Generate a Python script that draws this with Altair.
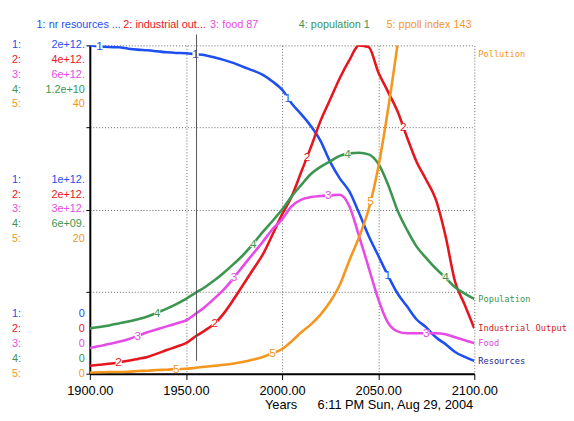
import altair as alt
import numpy as np
import pandas as pd

# ---------------- data ----------------
years = list(range(1900, 2101, 5))

# 1: nr resources (units of 1e12), axis max 2e12
resources = [2.00, 1.994, 1.99, 1.988, 1.98, 1.974, 1.97, 1.964, 1.958, 1.954,
             1.952, 1.946, 1.94, 1.926, 1.91, 1.892, 1.868, 1.846, 1.82, 1.78,
             1.73, 1.646, 1.58, 1.508, 1.418, 1.29, 1.19, 1.11, 0.98, 0.84,
             0.72, 0.60, 0.49, 0.41, 0.33, 0.282, 0.222, 0.18, 0.132, 0.102, 0.078]
# 2: industrial output (units of 1e12), axis max 4e12
industrial = [0.096, 0.108, 0.12, 0.136, 0.156, 0.18, 0.204, 0.244, 0.288, 0.328,
              0.372, 0.456, 0.528, 0.612, 0.744, 0.912, 1.092, 1.272, 1.452, 1.692,
              1.94, 2.16, 2.46, 2.76, 3.08, 3.34, 3.60, 3.82, 4.0, 3.98,
              3.676, 3.44, 3.2, 2.88, 2.58, 2.36, 2.12, 1.68, 1.12, 0.84, 0.552]
# 3: food (units of 1e12), axis max 6e12
food = [0.468, 0.504, 0.54, 0.582, 0.63, 0.69, 0.756, 0.81, 0.864, 0.918,
        0.972, 1.092, 1.224, 1.38, 1.548, 1.758, 1.98, 2.196, 2.412, 2.64,
        2.82, 3.06, 3.18, 3.228, 3.246, 3.258, 3.27, 3.06, 2.52, 1.944,
        1.368, 0.936, 0.774, 0.738, 0.738, 0.738, 0.738, 0.72, 0.666, 0.612, 0.558]
# 4: population (units of 1e9), axis max 1.2e10
population = [1.656, 1.704, 1.764, 1.836, 1.908, 1.992, 2.088, 2.232, 2.376, 2.544,
              2.736, 2.952, 3.168, 3.42, 3.708, 4.02, 4.356, 4.752, 5.184, 5.58,
              6.0, 6.48, 6.9, 7.3, 7.56, 7.76, 7.96, 8.052, 8.076, 8.016,
              7.68, 6.936, 5.976, 5.256, 4.644, 4.224, 3.84, 3.516, 3.156, 2.928, 2.736]
# 5: ppoll index, axis max 40
poll_years = list(range(1900, 2061, 5))
pollution = [0.12, 0.16, 0.2, 0.2, 0.24, 0.32, 0.36, 0.44, 0.48, 0.56,
             0.6, 0.72, 0.84, 0.96, 1.08, 1.24, 1.44, 1.72, 2.04, 2.48,
             3.0, 3.96, 5.04, 6.0, 7.2, 8.76, 10.8, 13.8, 16.6, 20.0,
             25.1, 32.0, 40.0]

series_names = ["nr resources", "industrial output", "food", "population", "ppoll index"]
series_keys = ["1", "2", "3", "4", "5"]
series_max = [2.0, 4.0, 6.0, 12.0, 40.0]          # in the units above
line_colors = ["#1e4ff0", "#e6161e", "#e64be6", "#3c9650", "#f5961e"]
label_years = [[1905, 1955, 2003, 2055],
               [1915, 1965, 2013, 2063],
               [1925, 1975, 2024, 2075],
               [1935, 1985, 2034, 2085],
               [1945, 1995, 2046]]

header_texts = ["1: nr resources ...", "2: industrial out...", "3: food 87",
                "4: population 1", "5: ppoll index 143"]
header_x = [-54, 34, 122, 212, 301]

tick_top = ["2e+12.", "4e+12.", "6e+12.", "1.2e+10", "40"]
tick_mid = ["1e+12.", "2e+12.", "3e+12.", "6e+09.", "20"]
tick_bot = ["0", "0", "0", "0", "0"]

right_names = ["Resources", "Industrial Output", "Food", "Population", "Pollution"]
right_colors = ["#1e1e8c", "#d21e28", "#e64be6", "#3c9650", "#f5961e"]

x_ticks = [1900, 1950, 2000, 2050, 2100]
cursor_year = [1955.5]
time_stamp = "6:11 PM   Sun, Aug 29, 2004"

# ---------------- tables ----------------
all_vals = [resources, industrial, food, population, pollution]
all_years = [years, years, years, years, poll_years]
rows = []
for k, vals, yrs, mx in zip(series_keys, all_vals, all_years, series_max):
    for yr, v in zip(yrs, vals):
        rows.append({"series": k, "year": yr, "frac": v / mx})
lines_df = pd.DataFrame(rows)

lab_rows = []
for k, vals, yrs, mx, lys in zip(series_keys, all_vals, all_years, series_max, label_years):
    for ly in lys:
        lab_rows.append({"series": k, "year": ly,
                         "frac": float(np.interp(ly, yrs, np.array(vals) / mx))})
labels_df = pd.DataFrame(lab_rows)

PX = 1.0 / 333.0  # one pixel in fraction units
left_rows = []
for block, anchor, texts in [(1.0, 0, tick_top), (0.5, 2, tick_mid), (0.0, 4, tick_bot)]:
    for i, (k, t, c) in enumerate(zip(series_keys, texts, line_colors)):
        left_rows.append({"frac": block - (i - anchor) * 15 * PX,
                          "key": k + ":", "val": t, "color": c})
left_df = pd.DataFrame(left_rows)

right_rows = []
for i, (nm, c) in enumerate(zip(right_names, right_colors)):
    vals, mx = all_vals[i], series_max[i]
    f = min(vals[-1] / mx, 0.975)
    right_rows.append({"frac": f, "name": nm, "color": c})
right_df = pd.DataFrame(right_rows)

header_df = pd.DataFrame({"text": header_texts, "px": header_x, "color": line_colors})

SANS = "Liberation Sans, Arial, sans-serif"

xscale = alt.Scale(domain=[1900, 2100], nice=False, zero=False)
yscale = alt.Scale(domain=[0, 1], nice=False, zero=False)

X = alt.X("year:Q", scale=xscale,
          axis=alt.Axis(values=x_ticks, format=".2f", title=None, grid=True,
                        gridDash=[1, 2], gridColor="#666", gridWidth=1,
                        domainColor="black", domainWidth=2, tickColor="black",
                        tickSize=6, tickWidth=1, labelFont=SANS, labelFontSize=13,
                        labelColor="black", labelPadding=5, labelFlush=False))
Y = alt.Y("frac:Q", scale=yscale,
          axis=alt.Axis(values=[0, 0.25, 0.5, 0.75, 1.0], labels=False, title=None,
                        grid=True, gridDash=[1, 2], gridColor="#666", gridWidth=1,
                        domainColor="black", domainWidth=2, tickColor="black",
                        tickSize=4))

color = alt.Color("series:N", scale=alt.Scale(domain=series_keys, range=line_colors),
                  legend=None)

lines = alt.Chart(lines_df).mark_line(strokeWidth=2.6, interpolate="monotone",
                                      clip=True).encode(x=X, y=Y, color=color,
                                                        detail="series:N")

label_bg = alt.Chart(labels_df).mark_point(shape="square", filled=True, size=40,
                                           color="white", opacity=1).encode(
    x=alt.X("year:Q", scale=xscale), y=alt.Y("frac:Q", scale=yscale))
label_txt = alt.Chart(labels_df).mark_text(font=SANS, fontSize=12).encode(
    x=alt.X("year:Q", scale=xscale), y=alt.Y("frac:Q", scale=yscale),
    text="series:N", color=color)

cursor = alt.Chart(pd.DataFrame({"year": cursor_year})).mark_rule(
    color="#555", strokeWidth=1).encode(x=alt.X("year:Q", scale=xscale),
                                        y=alt.value(-11), y2=alt.value(320))

left_key = alt.Chart(left_df).mark_text(font=SANS, fontSize=11, align="left",
                                        baseline="middle").encode(
    x=alt.value(-79), y=alt.Y("frac:Q", scale=yscale), text="key:N",
    color=alt.Color("color:N", scale=None))
left_val = alt.Chart(left_df).mark_text(font=SANS, fontSize=11, align="right",
                                        baseline="middle").encode(
    x=alt.value(-5), y=alt.Y("frac:Q", scale=yscale), text="val:N",
    color=alt.Color("color:N", scale=None))

header = alt.Chart(header_df).mark_text(font=SANS, fontSize=11, align="left",
                                        baseline="middle").encode(
    x=alt.X("px:Q", scale=None), y=alt.value(-21), text="text:N",
    color=alt.Color("color:N", scale=None))

right = alt.Chart(right_df).mark_text(font="DejaVu Sans Mono", fontSize=8.8,
                                      align="left", baseline="middle", dx=4).encode(
    x=alt.value(390), y=alt.Y("frac:Q", scale=yscale), text="name:N",
    color=alt.Color("color:N", scale=None))

years_title = alt.Chart(pd.DataFrame({"t": ["Years"]})).mark_text(
    font=SANS, fontSize=13, align="center", baseline="middle", color="black").encode(
    x=alt.value(194), y=alt.value(365), text="t:N")
stamp = alt.Chart(pd.DataFrame({"t": [time_stamp]})).mark_text(
    font=SANS, fontSize=13, align="left", baseline="middle", color="black").encode(
    x=alt.value(231), y=alt.value(365), text="t:N")

chart = alt.layer(lines, label_bg, label_txt, cursor, left_key, left_val, header,
                  right, years_title, stamp).properties(
    width=390, height=333,
    padding={"left": 83, "top": 35, "right": 93, "bottom": 37},
    autosize=alt.AutoSizeParams(type="none"),
    background="white",
).configure_view(stroke=None)

chart.save("out.html", embed_options={"renderer": "svg", "actions": False})
